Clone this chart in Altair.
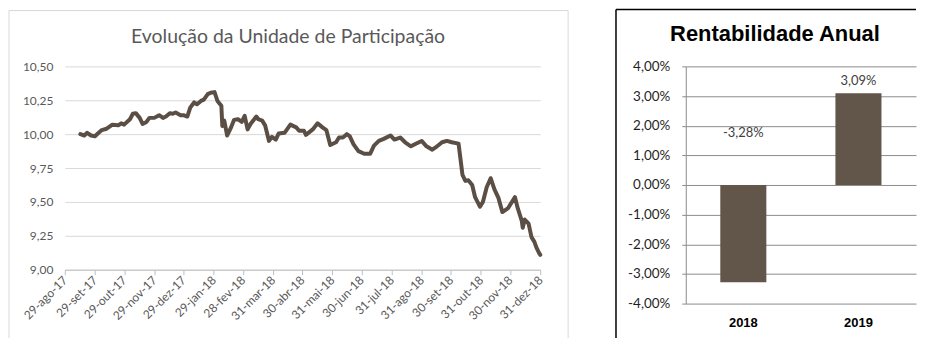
import altair as alt
import pandas as pd

# ---------------- data ----------------
dates = [
    "2017-09-14", "2017-09-18", "2017-09-21", "2017-09-25", "2017-09-29",
    "2017-10-02", "2017-10-06", "2017-10-11", "2017-10-17", "2017-10-23",
    "2017-10-26", "2017-10-29", "2017-11-04", "2017-11-07", "2017-11-10",
    "2017-11-14", "2017-11-17", "2017-11-21", "2017-11-24", "2017-11-29",
    "2017-12-04", "2017-12-08", "2017-12-11", "2017-12-15", "2017-12-18",
    "2017-12-21", "2017-12-26", "2017-12-29", "2018-01-02", "2018-01-05",
    "2018-01-09", "2018-01-12", "2018-01-16", "2018-01-19", "2018-01-23",
    "2018-01-26", "2018-01-30", "2018-02-02", "2018-02-06", "2018-02-07",
    "2018-02-09", "2018-02-12", "2018-02-16", "2018-02-19", "2018-02-23",
    "2018-02-27", "2018-03-02", "2018-03-05", "2018-03-08", "2018-03-14",
    "2018-03-16", "2018-03-20", "2018-03-23", "2018-03-27", "2018-03-30",
    "2018-04-03", "2018-04-06", "2018-04-12", "2018-04-18", "2018-04-24",
    "2018-04-27", "2018-05-02", "2018-05-04", "2018-05-11", "2018-05-16",
    "2018-05-21", "2018-05-25", "2018-05-29", "2018-06-04", "2018-06-07",
    "2018-06-11", "2018-06-15", "2018-06-18", "2018-06-22", "2018-06-27",
    "2018-07-03", "2018-07-09", "2018-07-13", "2018-07-18", "2018-07-23",
    "2018-07-30", "2018-08-03", "2018-08-09", "2018-08-14", "2018-08-20",
    "2018-08-24", "2018-08-31", "2018-09-05", "2018-09-11", "2018-09-14",
    "2018-09-21", "2018-09-26", "2018-10-01", "2018-10-08", "2018-10-10",
    "2018-10-12", "2018-10-15", "2018-10-18", "2018-10-22", "2018-10-25",
    "2018-10-30", "2018-11-02", "2018-11-06", "2018-11-10", "2018-11-14",
    "2018-11-18", "2018-11-22", "2018-11-28", "2018-12-05", "2018-12-08",
    "2018-12-12", "2018-12-13", "2018-12-15", "2018-12-19", "2018-12-22",
    "2018-12-25", "2018-12-27", "2018-12-30", "2018-12-31",
]
values = [
    10.00, 9.99, 10.01, 9.99, 9.985,
    10.005, 10.03, 10.04, 10.07, 10.065,
    10.08, 10.07, 10.11, 10.15, 10.155,
    10.12, 10.075, 10.09, 10.12, 10.12,
    10.14, 10.12, 10.13, 10.155, 10.15,
    10.16, 10.14, 10.14, 10.13, 10.195,
    10.235, 10.22, 10.245, 10.255, 10.295,
    10.305, 10.31, 10.245, 10.21, 10.06,
    10.10, 9.99, 10.05, 10.105, 10.11,
    10.09, 10.135, 10.035, 10.075, 10.13,
    10.11, 10.10, 10.065, 9.95, 9.98,
    9.96, 10.005, 10.01, 10.07, 10.05,
    10.025, 10.025, 9.995, 10.035, 10.08,
    10.05, 10.03, 9.92, 9.94, 9.975,
    9.975, 10.00, 9.985, 9.925, 9.875,
    9.855, 9.855, 9.915, 9.95, 9.965,
    9.99, 9.96, 9.975, 9.94, 9.91,
    9.925, 9.95, 9.91, 9.885, 9.90,
    9.94, 9.95, 9.94, 9.93, 9.815,
    9.70, 9.655, 9.66, 9.625, 9.535,
    9.465, 9.50, 9.61, 9.675, 9.59,
    9.53, 9.425, 9.455, 9.535, 9.45,
    9.36, 9.31, 9.37, 9.34, 9.24,
    9.205, 9.165, 9.12, 9.11,
]

x_tick_dates = [
    (2017, 8, 29), (2017, 9, 29), (2017, 10, 29), (2017, 11, 29), (2017, 12, 29),
    (2018, 1, 29), (2018, 2, 28), (2018, 3, 31), (2018, 4, 30), (2018, 5, 31),
    (2018, 6, 30), (2018, 7, 31), (2018, 8, 31), (2018, 9, 30), (2018, 10, 31),
    (2018, 11, 30), (2018, 12, 31),
]
month_names = ["jan", "fev", "mar", "abr", "mai", "jun",
               "jul", "ago", "set", "out", "nov", "dez"]
y_ticks_line = [9.00, 9.25, 9.50, 9.75, 10.00, 10.25, 10.50]

years = ["2018", "2019"]
returns = [-3.28, 3.09]
y_ticks_bar = [-4.0, -3.0, -2.0, -1.0, 0.0, 1.0, 2.0, 3.0, 4.0]

line_title = "Evolução da Unidade de Participação"
bar_title = "Rentabilidade Anual"

# ---------------- styling ----------------
LINE_COLOR = "#5b4e44"
BAR_COLOR = "#62554a"
GREY_TXT = "#595959"
FONT = "Lato"
FONT2 = "Liberation Sans"

line_df = pd.DataFrame({"data": dates, "valor": values})
bar_df = pd.DataFrame({"ano": years, "rent": returns})
frame_df = pd.DataFrame({"frame": [0]})

months_js = "[" + ",".join(f"'{m}'" for m in month_names) + "]"
x_label_expr = (
    "utcFormat(datum.value, '%d') + '-' + " + months_js +
    "[utcmonth(datum.value)] + '-' + utcFormat(datum.value, '%y')"
)
tick_vals = [alt.DateTime(year=y, month=m, date=d, utc=True) for (y, m, d) in x_tick_dates]
dmin = tick_vals[0]
dmax = tick_vals[-1]

LW, LH = 477, 204

line = alt.Chart(line_df).mark_line(
    color=LINE_COLOR, strokeWidth=4, strokeJoin="round", strokeCap="round"
).encode(
    x=alt.X(
        "data:T",
        scale=alt.Scale(type="utc", domain=[dmin, dmax], nice=False),
        axis=alt.Axis(
            values=tick_vals, labelExpr=x_label_expr, labelAngle=-45,
            labelAlign="right", labelBaseline="middle", title=None, grid=False,
            domainColor="#bfbfbf", tickColor="#bfbfbf", tickSize=5,
            labelColor=GREY_TXT, labelFont=FONT, labelFontSize=12,
            labelPadding=3, labelOverlap=False, labelBound=False, labelFlush=False,
        ),
    ),
    y=alt.Y(
        "valor:Q",
        scale=alt.Scale(domain=[9.0, 10.5], nice=False, zero=False),
        axis=alt.Axis(
            values=y_ticks_line,
            labelExpr="replace(format(datum.value, '.2f'), '.', ',')",
            title=None, domain=False, ticks=False, gridColor="#d9d9d9",
            labelColor=GREY_TXT, labelFont=FONT, labelFontSize=12, labelPadding=12,
            labelOverlap=False,
        ),
    ),
)

lf = alt.Chart(frame_df)
left_deco = alt.layer(
    lf.mark_rule(color="#d9d9d9", strokeWidth=1).encode(
        x=alt.value(-56), y=alt.value(-56), y2=alt.value(280)),
    lf.mark_rule(color="#d9d9d9", strokeWidth=1).encode(
        x=alt.value(505), y=alt.value(-56), y2=alt.value(280)),
    lf.mark_rule(color="#d9d9d9", strokeWidth=1).encode(
        x=alt.value(-56), x2=alt.value(505), y=alt.value(-56)),
    lf.mark_text(font=FONT, fontSize=19.5, color=GREY_TXT, align="center",
                 baseline="middle").encode(
        x=alt.value(224), y=alt.value(-29), text=alt.value(line_title)),
)

left = alt.layer(left_deco, line).properties(width=LW, height=LH)

BW, BH = 231, 238
pct_expr = ("(datum.value < 0 ? '-' : '') + "
            "replace(format(abs(datum.value), '.2f'), '.', ',') + '%'")

x_axis_bar = alt.Axis(title=None, labelAngle=0, domain=False, ticks=False,
                      labelFont=FONT2, labelFontWeight="bold", labelFontSize=13,
                      labelColor="#000000", labelPadding=13)
x_scale_bar = alt.Scale(paddingInner=0.6, paddingOuter=0.3)
y_axis_bar = alt.Axis(values=y_ticks_bar, labelExpr=pct_expr, title=None,
                      grid=True, gridColor="#8c8c8c", domainColor="#8c8c8c",
                      tickColor="#8c8c8c", tickSize=4, labelFont=FONT,
                      labelFontSize=13.5, labelColor="#1f1f1f", labelPadding=12,
                      labelOverlap=False)
y_scale_bar = alt.Scale(domain=[-4, 4], nice=False)

bars = alt.Chart(bar_df).mark_bar(color=BAR_COLOR).encode(
    x=alt.X("ano:N", scale=x_scale_bar, axis=x_axis_bar),
    y=alt.Y("rent:Q", scale=y_scale_bar, axis=y_axis_bar),
)
label_calc = "(datum.rent < 0 ? '-' : '') + replace(format(abs(datum.rent), '.2f'), '.', ',') + '%'"
pos_labels = alt.Chart(bar_df).transform_filter("datum.rent >= 0").transform_calculate(
    lbl=label_calc
).mark_text(font=FONT, fontSize=13, color="#404040", dy=-12, baseline="middle").encode(
    x=alt.X("ano:N", scale=x_scale_bar, axis=x_axis_bar),
    y=alt.Y("rent:Q", scale=y_scale_bar, axis=y_axis_bar),
    text="lbl:N")
neg_labels = alt.Chart(bar_df).transform_filter("datum.rent < 0").transform_calculate(
    lbl=label_calc, rent="0"
).mark_text(font=FONT, fontSize=13, color="#404040", dy=-52, baseline="middle").encode(
    x=alt.X("ano:N", scale=x_scale_bar, axis=x_axis_bar),
    y=alt.Y("rent:Q", scale=y_scale_bar, axis=y_axis_bar),
    text="lbl:N")

rf = alt.Chart(frame_df)
right_deco = alt.layer(
    rf.mark_rule(color="#000000", strokeWidth=1.5).encode(
        x=alt.value(-70), y=alt.value(-57), y2=alt.value(280)),
    rf.mark_rule(color="#000000", strokeWidth=1.5).encode(
        x=alt.value(-70), x2=alt.value(231), y=alt.value(-57)),
    rf.mark_text(font=FONT2, fontSize=22, fontWeight="bold", color="#000000",
                 align="center", baseline="middle").encode(
        x=alt.value(89.5), y=alt.value(-32), text=alt.value(bar_title)),
)

right = alt.layer(right_deco, bars, pos_labels, neg_labels).properties(
    width=BW, height=BH)

chart = alt.hconcat(left, right, spacing=46).properties(
    padding={"left": 0, "top": 0, "right": 0, "bottom": 0}
).configure_view(stroke=None)

chart.save("out.html", embed_options={"renderer": "svg", "actions": False})
